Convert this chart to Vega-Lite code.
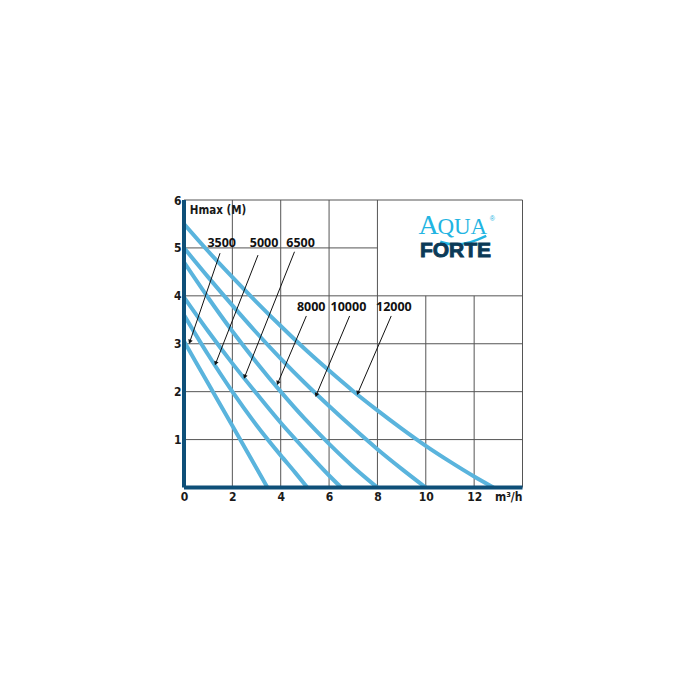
{
  "$schema": "https://vega.github.io/schema/vega-lite/v6.json",
  "autosize": {"type": "none"},
  "padding": {"left": 184, "top": 200, "right": 30, "bottom": 40},
  "width": 338.5,
  "height": 287.5,
  "background": "white",
  "config": {"view": {"stroke": null}},
  "datasets": {
    "curves": [
      {"s": "3500", "x": 0, "y": 3.05}, {"s": "3500", "x": 1, "y": 2.17}, {"s": "3500", "x": 2, "y": 1.29}, {"s": "3500", "x": 3, "y": 0.4}, {"s": "3500", "x": 3.45, "y": 0},
      {"s": "5000", "x": 0, "y": 3.6}, {"s": "5000", "x": 1, "y": 2.77}, {"s": "5000", "x": 2, "y": 2.0}, {"s": "5000", "x": 3, "y": 1.3}, {"s": "5000", "x": 4, "y": 0.67}, {"s": "5000", "x": 4.6, "y": 0.31}, {"s": "5000", "x": 5.1, "y": 0},
      {"s": "6500", "x": 0, "y": 3.97}, {"s": "6500", "x": 1, "y": 3.26}, {"s": "6500", "x": 2, "y": 2.59}, {"s": "6500", "x": 3, "y": 1.96}, {"s": "6500", "x": 4, "y": 1.35}, {"s": "6500", "x": 5, "y": 0.79}, {"s": "6500", "x": 6, "y": 0.25}, {"s": "6500", "x": 6.5, "y": 0},
      {"s": "8000", "x": 0, "y": 4.7}, {"s": "8000", "x": 1, "y": 3.96}, {"s": "8000", "x": 2, "y": 3.26}, {"s": "8000", "x": 3, "y": 2.61}, {"s": "8000", "x": 4, "y": 2.0}, {"s": "8000", "x": 5, "y": 1.43}, {"s": "8000", "x": 6, "y": 0.91}, {"s": "8000", "x": 7, "y": 0.43}, {"s": "8000", "x": 8, "y": 0},
      {"s": "10000", "x": 0, "y": 5.0}, {"s": "10000", "x": 1, "y": 4.39}, {"s": "10000", "x": 2, "y": 3.8}, {"s": "10000", "x": 3, "y": 3.23}, {"s": "10000", "x": 4, "y": 2.69}, {"s": "10000", "x": 5, "y": 2.18}, {"s": "10000", "x": 6, "y": 1.7}, {"s": "10000", "x": 7, "y": 1.24}, {"s": "10000", "x": 8, "y": 0.8}, {"s": "10000", "x": 9, "y": 0.39}, {"s": "10000", "x": 10, "y": 0},
      {"s": "12000", "x": 0, "y": 5.5}, {"s": "12000", "x": 1, "y": 4.93}, {"s": "12000", "x": 2, "y": 4.39}, {"s": "12000", "x": 3, "y": 3.87}, {"s": "12000", "x": 4, "y": 3.37}, {"s": "12000", "x": 5, "y": 2.89}, {"s": "12000", "x": 6, "y": 2.44}, {"s": "12000", "x": 7, "y": 2.01}, {"s": "12000", "x": 8, "y": 1.61}, {"s": "12000", "x": 9, "y": 1.23}, {"s": "12000", "x": 10, "y": 0.87}, {"s": "12000", "x": 11, "y": 0.54}, {"s": "12000", "x": 12, "y": 0.23}, {"s": "12000", "x": 12.8, "y": 0}
    ],
    "vgrid": [
      {"x": 2, "y0": 0, "y1": 6}, {"x": 4, "y0": 0, "y1": 6}, {"x": 6, "y0": 0, "y1": 6}, {"x": 8, "y0": 0, "y1": 6},
      {"x": 10, "y0": 0, "y1": 4}, {"x": 12, "y0": 0, "y1": 4}, {"x": 14, "y0": 0, "y1": 6}
    ],
    "hgrid": [
      {"y": 1, "x0": 0, "x1": 14}, {"y": 2, "x0": 0, "x1": 14}, {"y": 3, "x0": 0, "x1": 14}, {"y": 4, "x0": 0, "x1": 14},
      {"y": 5, "x0": 0, "x1": 8}, {"y": 6, "x0": 0, "x1": 14}
    ],
    "arrows": [
      {"s": "3500", "x0": 1.49, "y0": 4.89, "x1": 0.24, "y1": 3.04},
      {"s": "5000", "x0": 3.06, "y0": 4.85, "x1": 1.31, "y1": 2.59},
      {"s": "6500", "x0": 4.57, "y0": 4.92, "x1": 2.51, "y1": 2.31},
      {"s": "8000", "x0": 5.06, "y0": 3.58, "x1": 3.88, "y1": 2.18},
      {"s": "10000", "x0": 6.85, "y0": 3.58, "x1": 5.47, "y1": 1.93},
      {"s": "12000", "x0": 8.57, "y0": 3.58, "x1": 7.19, "y1": 1.97}
    ],
    "labels": [
      {"t": "3500", "x": 1.56, "y": 5.1}, {"t": "5000", "x": 3.31, "y": 5.1}, {"t": "6500", "x": 4.82, "y": 5.1},
      {"t": "8000", "x": 5.26, "y": 3.77}, {"t": "10000", "x": 6.8, "y": 3.77}, {"t": "12000", "x": 8.68, "y": 3.77}
    ],
    "axes": [
      {"x0": 0, "y0": 0, "x1": 0, "y1": 6},
      {"x0": 0, "y0": 0, "x1": 14, "y1": 0}
    ]
  },
  "encoding": {
    "x": {"type": "quantitative", "scale": {"domain": [0, 14], "nice": false}},
    "y": {"type": "quantitative", "scale": {"domain": [0, 6], "nice": false}}
  },
  "layer": [
    {
      "data": {"name": "vgrid"},
      "mark": {"type": "rule", "color": "#555555", "strokeWidth": 1},
      "encoding": {
        "x": {"field": "x", "type": "quantitative", "axis": {"values": [0, 2, 4, 6, 8, 10, 12], "title": null, "grid": false, "domain": false, "ticks": false, "labelFlush": false, "labelFont": "'DejaVu Sans Condensed', 'Liberation Sans', sans-serif", "labelFontWeight": "bold", "labelFontSize": 12, "labelColor": "#1a1a1a", "labelPadding": 4}},
        "y": {"field": "y0", "type": "quantitative", "axis": {"values": [1, 2, 3, 4, 5, 6], "title": null, "grid": false, "domain": false, "ticks": false, "labelFlush": false, "labelFont": "'DejaVu Sans Condensed', 'Liberation Sans', sans-serif", "labelFontWeight": "bold", "labelFontSize": 12, "labelColor": "#1a1a1a", "labelPadding": 3}},
        "y2": {"field": "y1"}
      }
    },
    {
      "data": {"name": "hgrid"},
      "mark": {"type": "rule", "color": "#555555", "strokeWidth": 1},
      "encoding": {
        "y": {"field": "y", "type": "quantitative"},
        "x": {"field": "x0", "type": "quantitative"},
        "x2": {"field": "x1"}
      }
    },
    {
      "data": {"name": "curves"},
      "mark": {"type": "line", "color": "#5ab4dd", "strokeWidth": 4, "interpolate": "monotone", "clip": true},
      "encoding": {
        "x": {"field": "x", "type": "quantitative"},
        "y": {"field": "y", "type": "quantitative"},
        "detail": {"field": "s"}
      }
    },
    {
      "data": {"name": "axes"},
      "mark": {"type": "rule", "color": "#0e4f78", "strokeWidth": 4},
      "encoding": {
        "x": {"field": "x0", "type": "quantitative"},
        "y": {"field": "y0", "type": "quantitative"},
        "x2": {"field": "x1"},
        "y2": {"field": "y1"}
      }
    },
    {
      "data": {"name": "arrows"},
      "mark": {"type": "rule", "color": "#111111", "strokeWidth": 1},
      "encoding": {
        "x": {"field": "x0", "type": "quantitative"},
        "y": {"field": "y0", "type": "quantitative"},
        "x2": {"field": "x1"},
        "y2": {"field": "y1"}
      }
    },
    {
      "data": {"name": "arrows"},
      "mark": {"type": "point", "shape": "triangle-down", "filled": true, "color": "#111111", "size": 22, "angle": 21, "opacity": 1},
      "encoding": {
        "x": {"field": "x1", "type": "quantitative"},
        "y": {"field": "y1", "type": "quantitative"}
      }
    },
    {
      "data": {"name": "labels"},
      "mark": {"type": "text", "font": "Open Sans", "fontWeight": "bold", "fontSize": 12.5, "color": "#111111", "align": "center", "baseline": "middle"},
      "encoding": {
        "x": {"field": "x", "type": "quantitative"},
        "y": {"field": "y", "type": "quantitative"},
        "text": {"field": "t"}
      }
    },
    {
      "data": {"values": [{"t": "Hmax (M)", "x": 0.24, "y": 5.77}]},
      "mark": {"type": "text", "font": "'DejaVu Sans Condensed', 'Liberation Sans', sans-serif", "fontWeight": "bold", "fontSize": 11.5, "color": "#1a1a1a", "align": "left", "baseline": "middle"},
      "encoding": {
        "x": {"field": "x", "type": "quantitative"},
        "y": {"field": "y", "type": "quantitative"},
        "text": {"field": "t"}
      }
    },
    {
      "data": {"values": [{"t": "m³/h", "x": 14, "y": 0}]},
      "mark": {"type": "text", "font": "'DejaVu Sans Condensed', 'Liberation Sans', sans-serif", "fontWeight": "bold", "fontSize": 12, "color": "#1a1a1a", "align": "right", "baseline": "top", "dy": 4},
      "encoding": {
        "x": {"field": "x", "type": "quantitative"},
        "y": {"field": "y", "type": "quantitative"},
        "text": {"field": "t"}
      }
    },
    {
      "data": {"values": [{"t": "A", "x": 9.7, "y": 5.3}]},
      "mark": {"type": "text", "font": "Liberation Serif", "fontSize": 28, "color": "#22b4e2", "align": "left", "baseline": "alphabetic"},
      "encoding": {
        "x": {"field": "x", "type": "quantitative"},
        "y": {"field": "y", "type": "quantitative"},
        "text": {"field": "t"}
      }
    },
    {
      "data": {"values": [{"t": "QUA", "x": 10.48, "y": 5.3}]},
      "mark": {"type": "text", "font": "Liberation Serif", "fontSize": 23, "color": "#22b4e2", "align": "left", "baseline": "alphabetic"},
      "encoding": {
        "x": {"field": "x", "type": "quantitative"},
        "y": {"field": "y", "type": "quantitative"},
        "text": {"field": "t"}
      }
    },
    {
      "data": {"values": [{"t": "®", "x": 12.75, "y": 5.6}]},
      "mark": {"type": "text", "font": "Liberation Sans", "fontSize": 7, "color": "#22b4e2", "align": "center", "baseline": "middle"},
      "encoding": {
        "x": {"field": "x", "type": "quantitative"},
        "y": {"field": "y", "type": "quantitative"},
        "text": {"field": "t"}
      }
    },
    {
      "data": {"values": [{"x": 10.6, "y": 5.13}, {"x": 11.2, "y": 5.07}, {"x": 11.85, "y": 5.12}, {"x": 12.5, "y": 5.25}]},
      "mark": {"type": "line", "color": "#22b4e2", "strokeWidth": 2.5, "interpolate": "monotone"},
      "encoding": {
        "x": {"field": "x", "type": "quantitative"},
        "y": {"field": "y", "type": "quantitative"}
      }
    },
    {
      "data": {"values": [{"t": "FORTE", "x": 11.23, "y": 4.82}]},
      "mark": {"type": "text", "font": "Liberation Sans", "fontWeight": "bold", "fontSize": 21, "color": "#0b3a57", "stroke": "#0b3a57", "strokeWidth": 0.9, "align": "center", "baseline": "alphabetic"},
      "encoding": {
        "x": {"field": "x", "type": "quantitative"},
        "y": {"field": "y", "type": "quantitative"},
        "text": {"field": "t"}
      }
    }
  ]
}
